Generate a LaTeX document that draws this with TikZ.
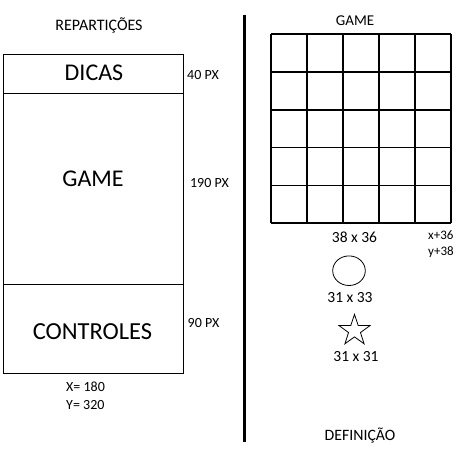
\documentclass[tikz,border=0pt]{standalone}
\usepackage{fontspec}
\setmainfont{Carlito}
\usetikzlibrary{shapes.geometric}

\begin{document}
\begin{tikzpicture}[x=1pt,y=-1pt]
\useasboundingbox (0,0) rectangle (463,459);
% left side: layout of the screen
\draw[line width=1pt] (3.5,54) rectangle (183,373);
\draw[line width=1pt] (3.5,93) -- (183,93);
\draw[line width=1pt] (3.5,284) -- (183,284);

\node (rep) at (99,25) {\fontsize{16}{18}\selectfont REPARTIÇÕES};
\node (dicas) at (94,73) {\fontsize{24}{27}\selectfont DICAS};
\node (game) at (93,179) {\fontsize{24}{27}\selectfont GAME};
\node (ctrl) at (92.5,332) {\fontsize{24.5}{27}\selectfont CONTROLES};
\node (h40) at (203,75) {\fontsize{14}{16}\selectfont 40 PX};
\node (h190) at (209.5,183) {\fontsize{14}{16}\selectfont 190 PX};
\node (h90) at (203.5,323) {\fontsize{14}{16}\selectfont 90 PX};
\node[anchor=west,inner sep=0pt] (sx) at (66,387) {\fontsize{14}{16}\selectfont X= 180};
\node[anchor=west,inner sep=0pt] (sy) at (66,405) {\fontsize{14}{16}\selectfont Y= 320};

% separator
\draw[line width=3pt] (244.5,14.7) -- (244.5,442);

% right side: board and pieces
\foreach \i in {0,...,5} {
  \draw[line width=1.8pt] (271+35.94*\i,34) -- (271+35.94*\i,223.3);
  \draw[line width=1.8pt] (271,34+37.86*\i) -- (450.7,34+37.86*\i);
}
\node (board) at (355,21) {\fontsize{15}{17}\selectfont GAME};
\node (cell) at (354.5,237) {\fontsize{15.5}{18}\selectfont 38 x 36};
\node[anchor=west,inner sep=0pt] (dx) at (428,235) {\fontsize{13}{15}\selectfont x+36};
\node[anchor=west,inner sep=0pt] (dy) at (428,252) {\fontsize{13}{15}\selectfont y+38};

\draw[line width=0.8pt] (349,270.7) ellipse (16.3 and 14.8);
\node (csize) at (350,298) {\fontsize{15.5}{18}\selectfont 31 x 33};

\node[star,star points=5,star point ratio=2.6,minimum size=32.6pt,inner sep=0pt,
  draw,line width=0.8pt] (star) at (354.5,330.6) {};
\node (ssize) at (356,357) {\fontsize{15.5}{18}\selectfont 31 x 31};

\node (def) at (360,436) {\fontsize{15.8}{18}\selectfont DEFINIÇÃO};
\end{tikzpicture}
\end{document}
